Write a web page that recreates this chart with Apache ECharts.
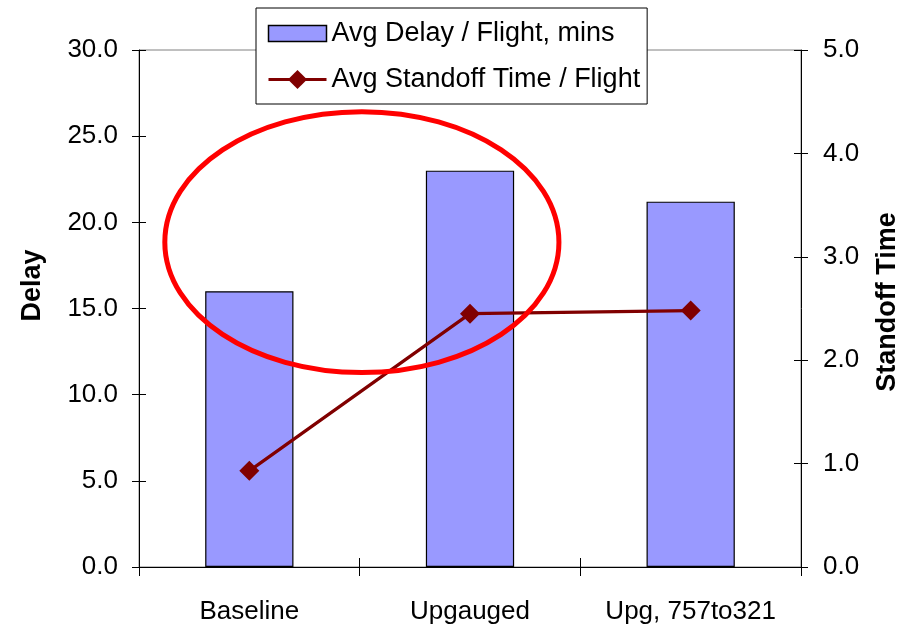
<!DOCTYPE html>
<html>
<head>
<meta charset="utf-8">
<script src="https://cdn.jsdelivr.net/npm/echarts@6/dist/echarts.min.js"></script>
<style>
html,body{margin:0;padding:0;background:#fff;}
#chart{width:911px;height:627px;}
</style>
</head>
<body>
<div id="chart"></div>
<script>
var categories = ['Baseline', 'Upgauged', 'Upg, 757to321'];
var delayValues = [16.0, 23.0, 21.2];
var standoffValues = [0.93, 2.45, 2.48];
var delayTicks = { min: 0, max: 30, interval: 5 };
var standoffTicks = { min: 0, max: 5, interval: 1 };
var seriesNames = ['Avg Delay / Flight, mins', 'Avg Standoff Time / Flight'];
var axisTitles = ['Delay', 'Standoff Time'];

var FONT = '"Liberation Sans", Arial, sans-serif';
var chart = echarts.init(document.getElementById('chart'), null, { renderer: 'canvas' });

function labelFmt(v) { return v.toFixed(1); }

var option = {
  animation: false,
  backgroundColor: '#ffffff',
  textStyle: { fontFamily: FONT },
  grid: {
    left: 139, right: 110, top: 50, bottom: 60,
    show: true, borderColor: '#808080', borderWidth: 1, backgroundColor: 'transparent'
  },
  legend: {
    orient: 'vertical',
    left: 256, top: 8,
    padding: [10, 7, 9, 11],
    itemWidth: 58, itemHeight: 24, itemGap: 15,
    symbolKeepAspect: true,
    backgroundColor: '#ffffff',
    borderColor: '#000000', borderWidth: 1,
    textStyle: { fontSize: 27, color: '#000', fontFamily: FONT, lineHeight: 31 },
    data: [
      { name: seriesNames[0], icon: 'path://M0,0H58V16H0Z', itemStyle: { color: '#9999FF', borderColor: '#000', borderWidth: 1.5 } },
      { name: seriesNames[1], lineStyle: { width: 3, color: '#800000' } }
    ]
  },
  xAxis: [
    {
      type: 'category', data: categories, boundaryGap: true,
      axisLine: { show: true, lineStyle: { color: '#000', width: 1 } },
      axisTick: { show: true, alignWithLabel: false, length: 9, lineStyle: { color: '#000' } },
      axisLabel: { fontSize: 26, color: '#000', margin: 32, fontFamily: FONT, interval: 0 }
    },
    {
      type: 'category', data: categories, boundaryGap: true, position: 'bottom',
      axisLine: { show: false },
      axisTick: { show: true, inside: true, length: 9, lineStyle: { color: '#000' } },
      axisLabel: { show: false }
    }
  ],
  yAxis: [
    {
      type: 'value', position: 'left',
      min: delayTicks.min, max: delayTicks.max, interval: delayTicks.interval,
      axisLine: { show: true, lineStyle: { color: '#000', width: 1 } },
      axisTick: { show: true, length: 7, lineStyle: { color: '#000' } },
      axisLabel: { fontSize: 26, color: '#000', margin: 21, fontFamily: FONT, formatter: labelFmt },
      splitLine: { show: false }
    },
    {
      type: 'value', position: 'right',
      min: standoffTicks.min, max: standoffTicks.max, interval: standoffTicks.interval,
      axisLine: { show: true, lineStyle: { color: '#000', width: 1 } },
      axisTick: { show: true, length: 7, lineStyle: { color: '#000' } },
      axisLabel: { fontSize: 26, color: '#000', margin: 22, fontFamily: FONT, formatter: labelFmt },
      splitLine: { show: false }
    },
    {
      type: 'value', position: 'left',
      min: delayTicks.min, max: delayTicks.max, interval: delayTicks.interval,
      axisLine: { show: false },
      axisTick: { show: true, inside: true, length: 7, lineStyle: { color: '#000' } },
      axisLabel: { show: false }, splitLine: { show: false }
    },
    {
      type: 'value', position: 'right',
      min: standoffTicks.min, max: standoffTicks.max, interval: standoffTicks.interval,
      axisLine: { show: false },
      axisTick: { show: true, inside: true, length: 7, lineStyle: { color: '#000' } },
      axisLabel: { show: false }, splitLine: { show: false }
    }
  ],
  series: [
    {
      name: seriesNames[0], type: 'bar', xAxisIndex: 0, yAxisIndex: 0,
      data: delayValues, barWidth: '40%',
      itemStyle: { color: '#9999FF', borderColor: '#000000', borderWidth: 1.2 },
      z: 2
    },
    {
      name: seriesNames[1], type: 'line', xAxisIndex: 0, yAxisIndex: 1,
      data: standoffValues,
      symbol: 'diamond', symbolSize: 20,
      lineStyle: { color: '#800000', width: 3.2 },
      itemStyle: { color: '#800000' },
      z: 3
    }
  ]
};
chart.setOption(option);

// Annotation ellipse, placed using the chart's own scales
var x0 = chart.convertToPixel({ xAxisIndex: 0 }, 0);
var x1 = chart.convertToPixel({ xAxisIndex: 0 }, 1);
var xStep = x1 - x0;
var cx = (x0 + x1) / 2 + xStep * 0.01;
var cy = chart.convertToPixel({ yAxisIndex: 0 }, 18.85);
var yUnit = chart.convertToPixel({ yAxisIndex: 0 }, 0) - chart.convertToPixel({ yAxisIndex: 0 }, 1);

chart.setOption({
  graphic: [
    {
      type: 'ellipse', z: 100,
      shape: { cx: cx, cy: cy, rx: xStep * 0.893, ry: yUnit * 7.57 },
      style: { fill: 'none', stroke: '#FF0000', lineWidth: 5 }
    },
    {
      type: 'text', z: 100, x: 33, y: 285.5, rotation: Math.PI / 2,
      style: { text: axisTitles[0], font: 'bold 27px ' + FONT, fill: '#000', align: 'center', verticalAlign: 'middle' }
    },
    {
      type: 'text', z: 100, x: 887.5, y: 302, rotation: Math.PI / 2,
      style: { text: axisTitles[1], font: 'bold 27px ' + FONT, fill: '#000', align: 'center', verticalAlign: 'middle' }
    }
  ]
});
</script>
</body>
</html>
